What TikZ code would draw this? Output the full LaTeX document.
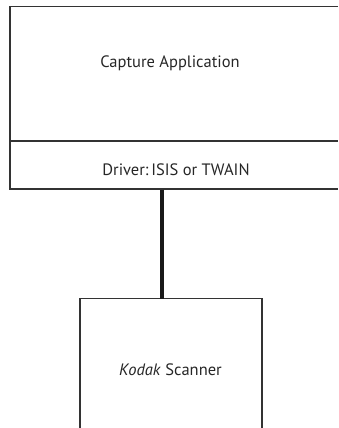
\documentclass[tikz,border=0pt]{standalone}
\usepackage{fontspec}
\setmainfont{PT Sans}
\begin{document}
\begin{tikzpicture}[x=1pt,y=-1pt,
  boxline/.style={draw=black!80,line width=1.3pt},
  lbl/.style={font=\fontsize{16.5}{19}\selectfont,text=black!85,inner sep=0pt}]
\useasboundingbox (0,0) rectangle (338,428);
% top box (open at right edge)
\draw[boxline] (338,6.5) -- (10,6.5) -- (10,189) -- (338,189);
\draw[boxline] (10,141) -- (338,141);
% bottom box (open at bottom)
\draw[boxline] (80,428) -- (80,298.5) -- (262,298.5) -- (262,428);
\node[lbl] (app) at (170,63) {Capture Application};
\node[lbl] (drv) at (176,170) {Driver:\,ISIS or TWAIN};
\node[lbl] (scan) at (170.5,370) {\textit{Kodak} Scanner};
\coordinate (c1) at (162,189.5);
\coordinate (c2) at (162,298.5);
\draw[line width=4pt,black!90] (c1) -- (c2);
\end{tikzpicture}
\end{document}
